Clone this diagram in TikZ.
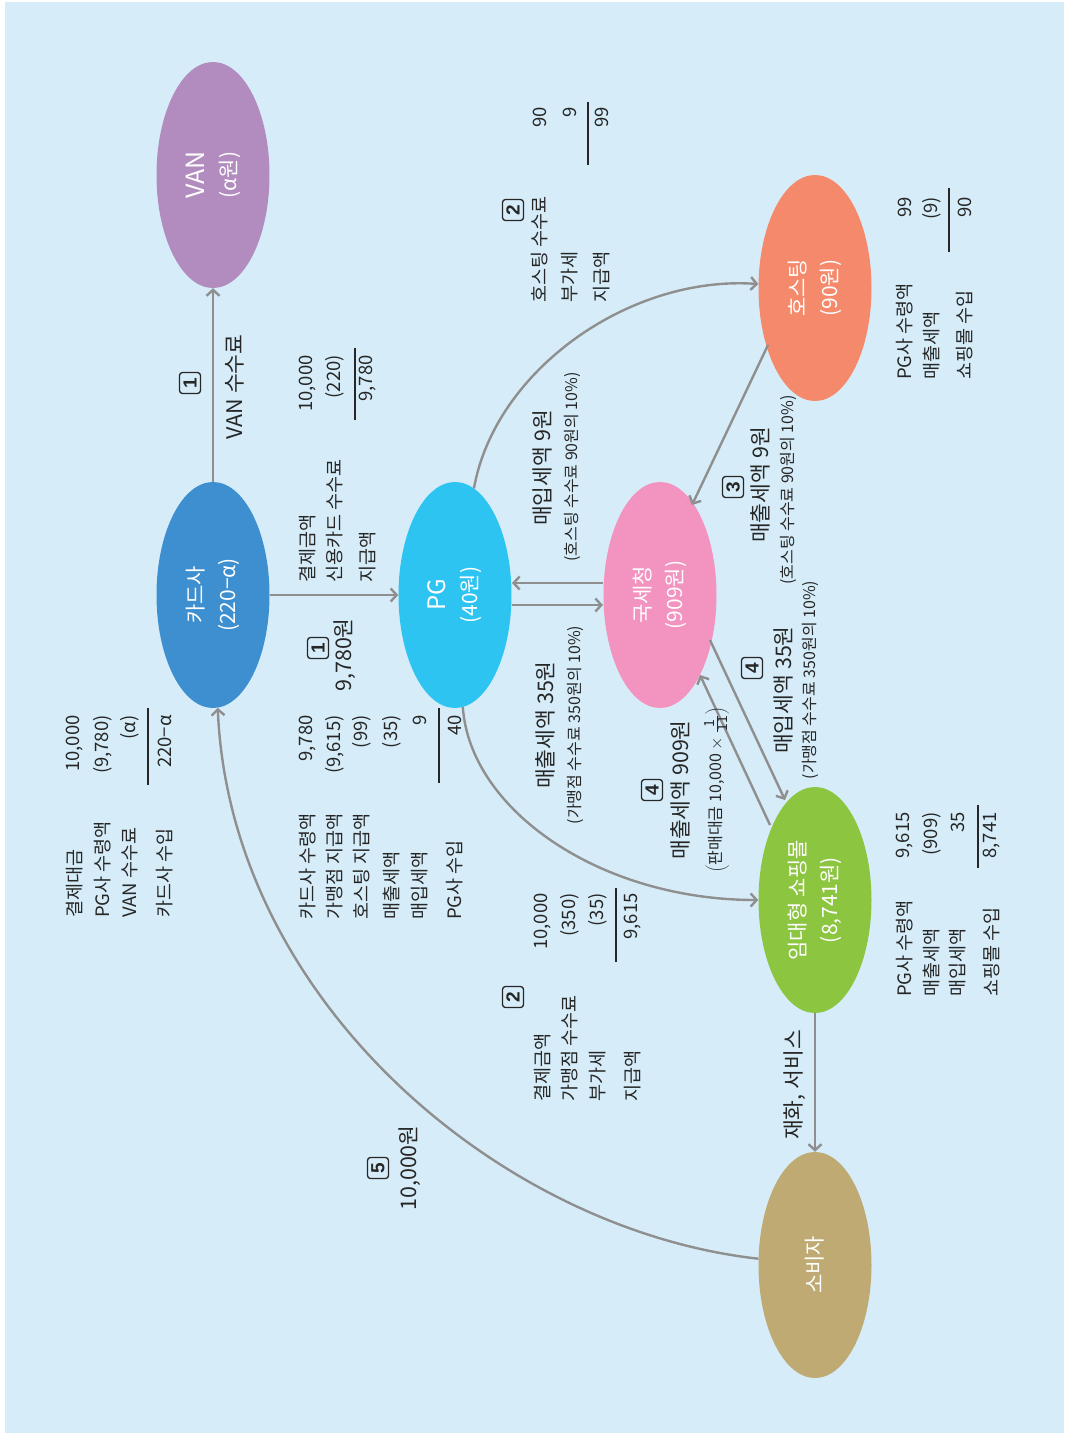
\documentclass[tikz,border=0pt]{standalone}
\usepackage{fontspec}
\setmainfont{Noto Sans CJK KR}
\newfontfamily\numfont{Liberation Sans}
\usetikzlibrary{shapes.geometric,arrows.meta,calc}
\definecolor{bgc}{HTML}{D6EDF9}
\definecolor{vanc}{HTML}{B28CBF}
\definecolor{cardc}{HTML}{3E8FCF}
\definecolor{pgc}{HTML}{2EC4F2}
\definecolor{gukc}{HTML}{F393C0}
\definecolor{hostc}{HTML}{F5896B}
\definecolor{mallc}{HTML}{8CC53F}
\definecolor{consc}{HTML}{BEAA72}
\definecolor{linec}{HTML}{8F8F8F}
\definecolor{txt}{HTML}{262626}
\tikzset{
  conn/.style={draw=linec, line width=2.4pt, -{Straight Barb[length=6pt,width=13pt]}},
  ell/.style={ellipse, rotate=90, minimum width=226, minimum height=113, inner sep=0pt,
    text=white, align=center, font=\fontsize{21}{32}\selectfont},
  lbl/.style={rotate=90, inner sep=0pt, text=txt, font=\fontsize{18.5}{20}\selectfont},
  big/.style={rotate=90, inner sep=0pt, text=txt, font=\fontsize{21.5}{24}\selectfont},
  small/.style={rotate=90, inner sep=0pt, text=txt, font=\fontsize{16}{18}\selectfont},
  numbox/.style={rotate=90, draw=txt, line width=1.3pt, rounded corners=3pt, inner sep=1pt,
    minimum size=21pt, text=txt, font=\numfont\bfseries\fontsize{19}{19}\selectfont},
  rulel/.style={draw=txt, line width=1.2pt}
}
\begin{document}
\begin{tikzpicture}[x=1pt,y=-1pt]
\useasboundingbox (0,0) rectangle (1067,1436);
\fill[white] (0,0) rectangle (1067,1436);
\fill[bgc] (5,2) rectangle (1064,1433);

% ellipses
\node[ell, fill=vanc] (van) at (213,175) {{\fontsize{25}{28}\selectfont VAN}\\(α원)};
\node[ell, fill=cardc] (card) at (213,595) {카드사\\(220−α)};
\node[ell, fill=pgc] (pg) at (455,595) {{\fontsize{24}{28}\selectfont PG}\\(40원)};
\node[ell, fill=gukc] (gukse) at (660,595) {국세청\\(909원)};
\node[ell, fill=hostc] (hosting) at (815,288) {호스팅\\(90원)};
\node[ell, fill=mallc] (mall) at (815,900) {임대형 쇼핑몰\\(8,741원)};
\node[ell, fill=consc] (consumer) at (815,1265) {소비자};

% connectors
\draw[conn] (card) -- (van);
\draw[conn] (card) -- (pg);
\draw[conn] ($(gukse)+(-57,-12)$) -- ($(pg)+(57,-12)$);
\draw[conn] ($(pg)+(57,10)$) -- ($(gukse)+(-57,10)$);
\draw[conn] (pg) .. controls (495,370) and (630,275) .. (hosting);
\draw[conn] ($(hosting)+(-47,57)$) -- ($(gukse)+(32,-90)$);
\draw[conn] (pg) .. controls (470,810) and (600,900) .. (mall);
\draw[conn] ($(gukse)+(50,45)$) -- ($(mall)+(-30,-100)$);
\draw[conn] ($(mall)+(-45,-75)$) -- ($(gukse)+(40,80)$);
\draw[conn] (mall) -- (consumer);
\draw[conn] (consumer) .. controls (500,1230) and (230,1000) .. (card);

% connector labels
\node[numbox] (n1a) at (190,383) {1};
\node[big] (vanfee) at (235,387) {VAN 수수료};
\node[numbox] (n1b) at (318,648) {1};
\node[big] (pay9780) at (345,655) {9,780원};
\node[numbox] (n2a) at (513,210) {2};
\node[numbox] (n2b) at (513,997) {2};
\node[numbox] (n3) at (733,487) {3};
\node[numbox] (n4a) at (652,790) {4};
\node[numbox] (n4b) at (752,668) {4};
\node[numbox] (n5) at (378,1168) {5};
\node[big] (pay10000) at (410,1168) {10,000원};
\node[big] (goods) at (795,1085) {재화, 서비스};
\node[big] (t1) at (542,468) {매입세액 9원};
\node[small] (t1s) at (572,467) {(호스팅 수수료 90원의 10\%)};
\node[big] (t2) at (545,725) {매출세액 35원};
\node[small] (t2s) at (575,725) {(가맹점 수수료 350원의 10\%)};
\node[big] (t3) at (680,790) {매출세액 909원};
\node[small] (t3s) at (717,790) {$\left(\mbox{판매대금 10,000}\times\frac{\mbox{\fontsize{14}{14}\selectfont 1}}{\mbox{\fontsize{14}{14}\selectfont 11}}\right)$};
\node[big] (t4) at (760,485) {매출세액 9원};
\node[small] (t4s) at (788,490) {(호스팅 수수료 90원의 10\%)};
\node[big] (t5) at (783,690) {매입세액 35원};
\node[small] (t5s) at (810,680) {(가맹점 수수료 350원의 10\%)};

% table A: card company
\foreach \x/\t [count=\i] in {75/결제대금,103/PG사 수령액,130/VAN 수수료,165/카드사 수입}
  \node[lbl,anchor=west] (al\i) at (\x,918) {\t};
\foreach \x/\t [count=\i] in {75/{10,000},103/{(9,780)},130/{(α)},165/{220−α}}
  \node[lbl,anchor=east] (av\i) at (\x,715) {\t};
\draw[rulel] (148,708) -- (148,785);

% table B: PG income
\foreach \x/\t [count=\i] in {308/카드사 수령액,335/가맹점 지급액,362/호스팅 지급액,392/매출세액,420/매입세액,455/PG사 수입}
  \node[lbl,anchor=west] (bl\i) at (\x,920) {\t};
\foreach \x/\t [count=\i] in {308/{9,780},335/{(9,615)},362/{(99)},392/{(35)},420/{9},455/{40}}
  \node[lbl,anchor=east] (bv\i) at (\x,715) {\t};
\draw[rulel] (439,708) -- (439,783);

% table C: card fee
\foreach \x/\t [count=\i] in {308/결제금액,335/신용카드 수수료,368/지급액}
  \node[lbl,anchor=west] (cl\i) at (\x,583) {\t};
\foreach \x/\t [count=\i] in {308/{10,000},335/{(220)},368/{9,780}}
  \node[lbl,anchor=east] (cv\i) at (\x,355) {\t};
\draw[rulel] (355,348) -- (355,420);

% table D: merchant fee
\foreach \x/\t [count=\i] in {543/결제금액,570/가맹점 수수료,598/부가세,633/지급액}
  \node[lbl,anchor=west] (dl\i) at (\x,1102) {\t};
\foreach \x/\t [count=\i] in {543/{10,000},570/{(350)},598/{(35)},633/{9,615}}
  \node[lbl,anchor=east] (dv\i) at (\x,893) {\t};
\draw[rulel] (616,888) -- (616,962);

% table E: hosting fee
\foreach \x/\t [count=\i] in {540/호스팅 수수료,570/부가세,602/지급액}
  \node[lbl,anchor=west] (el\i) at (\x,303) {\t};
\foreach \x/\t [count=\i] in {540/{90},570/{9},602/{99}}
  \node[lbl,anchor=east] (ev\i) at (\x,107) {\t};
\draw[rulel] (588,102) -- (588,165);

% table F: mall income
\foreach \x/\t [count=\i] in {905/PG사 수령액,932/매출세액,958/매입세액,992/쇼핑몰 수입}
  \node[lbl,anchor=west] (fl\i) at (\x,997) {\t};
\foreach \x/\t [count=\i] in {905/{9,615},932/{(909)},958/{35},992/{8,741}}
  \node[lbl,anchor=east] (fv\i) at (\x,812) {\t};
\draw[rulel] (978,805) -- (978,868);

% table G: mall hosting
\foreach \x/\t [count=\i] in {905/PG사 수령액,932/매출세액,965/쇼핑몰 수입}
  \node[lbl,anchor=west] (gl\i) at (\x,380) {\t};
\foreach \x/\t [count=\i] in {905/{99},932/{(9)},965/{90}}
  \node[lbl,anchor=east] (gv\i) at (\x,197) {\t};
\draw[rulel] (949,188) -- (949,252);
\end{tikzpicture}
\end{document}
